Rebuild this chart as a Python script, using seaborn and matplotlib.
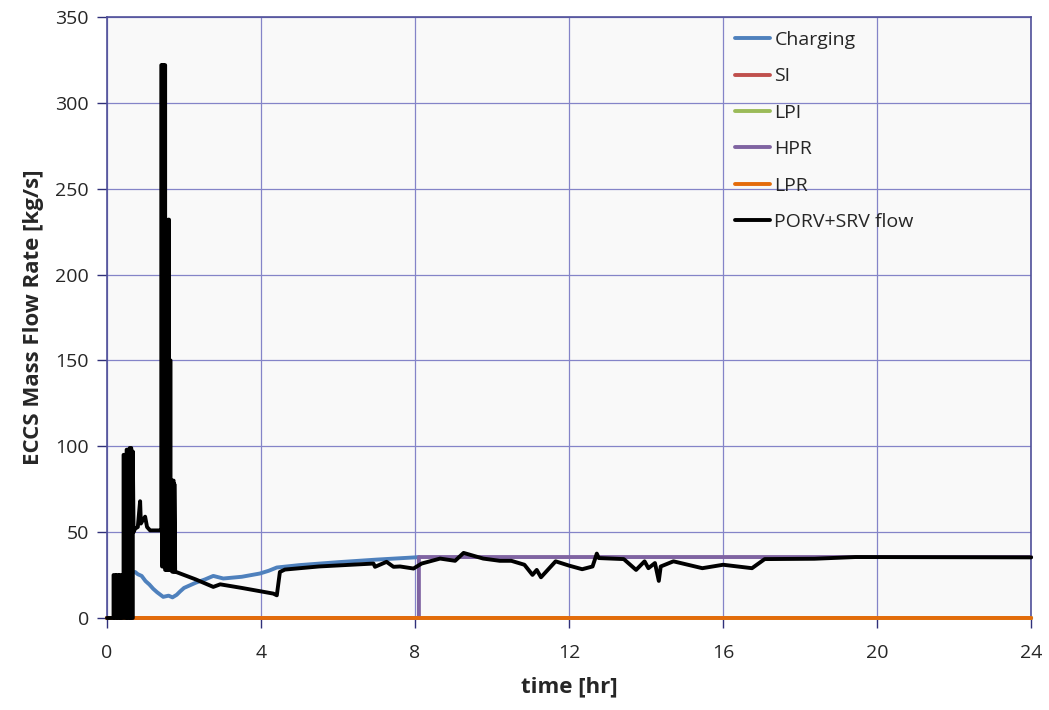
import matplotlib
matplotlib.use('Agg')

import pandas as pd
import matplotlib.pyplot as plt
import seaborn as sns

# values (time in hr, flow in kg/s)
charging_t = [0.73, 0.8, 0.9, 1.0, 1.1, 1.2, 1.3, 1.46, 1.6, 1.7, 1.81, 1.9, 2.0, 2.3, 2.55, 2.76,
              3.02, 3.5, 3.97, 4.2, 4.41, 5.0, 6.0, 7.0, 8.0, 8.1]
charging_v = [26.8, 25.5, 24.5, 21.5, 19.5, 17.0, 15.0, 12.3, 13.0, 12.0, 13.5, 15.5, 17.5, 20.5,
              22.5, 24.5, 23.0, 24.0, 25.9, 27.5, 29.4, 30.8, 32.5, 34.0, 35.3, 35.5]

zero_t = [0.0, 24.0]
zero_v = [0.0, 0.0]

hpr_t = [0.0, 8.1, 8.1, 24.0]
hpr_v = [0.0, 0.0, 35.5, 35.5]

# PORV+SRV: rapid cycling early on shows up as solid black blocks
porv_t = [0.0, 0.17, 0.17, 0.21, 0.21, 0.25, 0.25, 0.29, 0.29, 0.33, 0.33, 0.37, 0.37, 0.41, 0.41,
          0.43, 0.43, 0.47, 0.47, 0.51, 0.51, 0.55, 0.55, 0.59, 0.59, 0.63, 0.63, 0.67, 0.67, 0.69,
          0.73, 0.80, 0.86, 0.88, 0.93, 0.99, 1.04, 1.12, 1.38, 1.41,
          1.41, 1.43, 1.43, 1.45, 1.45, 1.47, 1.47, 1.49, 1.49, 1.51, 1.51, 1.53, 1.53, 1.55,
          1.55, 1.59, 1.59, 1.61, 1.61, 1.63, 1.63, 1.65, 1.65, 1.67, 1.67, 1.69, 1.69, 1.71,
          1.71, 1.73, 1.73, 1.75, 1.75, 1.77,
          2.3, 2.76, 2.94, 3.5, 4.32, 4.41, 4.49, 4.62, 5.5, 6.92, 6.96, 7.26, 7.44, 7.61, 7.96,
          8.17, 8.65, 9.04, 9.26, 9.77, 10.2, 10.5, 10.84, 11.05, 11.16, 11.27, 11.65, 12.0,
          12.34, 12.61, 12.72, 12.77, 13.42, 13.74, 13.96, 14.06, 14.23, 14.33, 14.38, 14.71,
          15.46, 16.0, 16.75, 17.08, 18.37, 19.44, 24.0]
porv_v = [0.0, 0.0, 25, 25, 0, 0, 25, 25, 0, 0, 25, 25, 0, 0, 25,
          25, 95, 95, 0, 0, 98, 98, 0, 0, 99, 99, 0, 0, 97, 50,
          52, 53, 68, 55, 57, 59, 53, 51, 51, 51,
          322, 322, 30, 30, 322, 322, 30, 30, 322, 322, 28, 28, 163, 163,
          28, 28, 232, 232, 28, 28, 150, 150, 28, 28, 80, 80, 27, 27,
          80, 80, 27, 27, 78, 27,
          22.5, 18.1, 19.6, 17.5, 14.2, 13.2, 26.8, 28.2, 30.0, 31.7, 29.8, 32.7, 29.8, 30.0, 28.8,
          31.7, 34.6, 33.3, 37.9, 34.6, 33.3, 33.3, 31.0, 25.1, 28.0, 23.7, 33.0, 30.5,
          28.4, 30.0, 37.5, 34.9, 34.3, 28.0, 33.0, 29.0, 32.0, 21.6, 30.0, 33.0,
          29.0, 31.0, 29.0, 34.3, 34.5, 35.5, 35.3]

series = [
    ("Charging", charging_t, charging_v, "#4F81BD"),
    ("SI", zero_t, zero_v, "#C0504D"),
    ("LPI", zero_t, zero_v, "#9BBB59"),
    ("HPR", hpr_t, hpr_v, "#8064A2"),
    ("LPR", zero_t, zero_v, "#E46C0A"),
    ("PORV+SRV flow", porv_t, porv_v, "black"),
]

sns.set_theme(style="white")
plt.rcParams['font.family'] = ['Open Sans', 'DejaVu Sans']
plt.rcParams['path.simplify'] = False

fig = plt.figure(figsize=(10.49, 7.10), dpi=100)
ax = fig.add_axes([0.102, 0.1296, 0.881, 0.8464])
ax.set_facecolor("#F9F9F9")

for name, t, v, col in series:
    df = pd.DataFrame({"t": t, "v": v})
    sns.lineplot(data=df, x="t", y="v", ax=ax, color=col, linewidth=2.8,
                 sort=False, estimator=None, label=name, snap=False,
                 clip_on=False, zorder=3)

ax.set_xlim(0, 24)
ax.set_ylim(0, 350)
ax.set_xticks(range(0, 25, 4))
ax.set_yticks(range(0, 351, 50))
ax.grid(True, color="#8484C8", linewidth=0.9)
ax.set_axisbelow(True)
for s in ax.spines.values():
    s.set_color("#50509A")
    s.set_linewidth(1.2)
ax.tick_params(axis="both", direction="out", length=7, width=1, color="#30307A",
               labelsize=14, left=True, bottom=True)
ax.tick_params(axis="x", pad=12)
ax.tick_params(axis="y", pad=6)

ax.set_xlabel("time [hr]", fontsize=16, fontweight="bold", labelpad=10)
ax.set_ylabel("ECCS Mass Flow Rate [kg/s]", fontsize=16, fontweight="bold", labelpad=8)

ax.legend(loc="upper left", bbox_to_anchor=(0.68, 0.977), frameon=False, fontsize=14,
          handlelength=1.8, handletextpad=0.2, labelspacing=0.95, borderaxespad=0, borderpad=0)

plt.savefig("out.png", dpi=100)
